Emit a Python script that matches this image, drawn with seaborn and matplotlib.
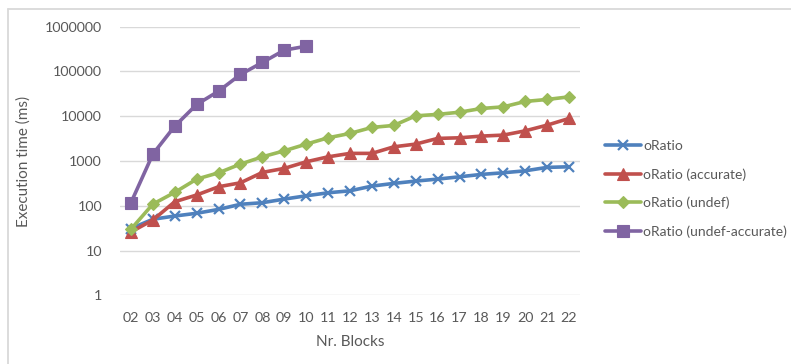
import numpy as np
import pandas as pd
import matplotlib
matplotlib.use("Agg")
import matplotlib.pyplot as plt
from matplotlib.lines import Line2D
import seaborn as sns

blocks = ["02", "03", "04", "05", "06", "07", "08", "09", "10", "11", "12",
          "13", "14", "15", "16", "17", "18", "19", "20", "21", "22"]

oratio = [31, 50, 59, 68, 83, 108, 117, 141, 167, 195, 216,
          275, 316, 356, 394, 444, 502, 546, 604, 720, 743]
oratio_accurate = [26, 48, 123, 174, 266, 326, 556, 684, 960, 1240, 1480,
                   1480, 2075, 2385, 3195, 3300, 3600, 3790, 4720, 6330, 8920]
oratio_undef = [30, 109, 199, 394, 545, 853, 1240, 1690, 2380, 3300, 4130,
                5620, 6230, 10200, 11000, 12300, 14900, 16200, 21400, 23700, 27100]
oratio_undef_accurate = [117, 1425, 6000, 18300, 36300, 85700, 159000, 299000, 367000]

series_names = ["oRatio", "oRatio (accurate)", "oRatio (undef)", "oRatio (undef-accurate)"]
series_values = [oratio, oratio_accurate, oratio_undef, oratio_undef_accurate]
colors = ["#4F81BD", "#C0504D", "#9BBB59", "#8064A2"]
markers = ["x", "^", "D", "s"]
marker_sizes = [7, 8, 6, 8]

rows = []
for name, vals in zip(series_names, series_values):
    for i, v in enumerate(vals):
        rows.append({"pos": i, "block": blocks[i], "series": name, "time": v})
df = pd.DataFrame(rows)

sns.set_theme(style="white")
plt.rcParams["font.family"] = ["Lato", "DejaVu Sans"]
text_color = "#595959"

fig = plt.figure(figsize=(7.91, 3.64), dpi=100)
ax = fig.add_axes([120 / 791, 1 - 295.3 / 364, 460 / 791, (295.3 - 26.7) / 364])

for name, c, m, ms in zip(series_names, colors, markers, marker_sizes):
    sub = df[df["series"] == name]
    sns.lineplot(data=sub, x="pos", y="time", ax=ax, color=c, linewidth=2.6,
                 marker=m, markersize=ms, markeredgecolor=c, markerfacecolor=c,
                 markeredgewidth=1.6 if m == "x" else 0.8,
                 label=name, zorder=3)

ax.set_yscale("log")
ax.set_ylim(1, 1e6)
ax.set_xlim(-0.5, len(blocks) - 0.5)
ax.set_yticks([1, 10, 100, 1000, 10000, 100000, 1000000])
ax.set_yticklabels(["1", "10", "100", "1000", "10000", "100000", "1000000"])
ax.yaxis.set_minor_locator(matplotlib.ticker.NullLocator())
ax.set_xticks(range(len(blocks)))
ax.set_xticklabels(blocks)
ax.tick_params(axis="both", length=0, labelsize=10.3, colors=text_color)
ax.tick_params(axis="x", pad=12)
ax.tick_params(axis="y", pad=13)
ax.grid(axis="y", color="#D9D9D9", linewidth=1)
ax.set_axisbelow(True)
for s in ax.spines.values():
    s.set_visible(False)

ax.set_xlabel("Nr. Blocks", fontsize=11, color=text_color, labelpad=8)
ax.set_ylabel("Execution time (ms)", fontsize=11, color=text_color, labelpad=10)

leg = ax.legend(loc="center left",
                bbox_to_anchor=((605 - 120) / 460, (295.3 - 189) / 268.6),
                borderaxespad=0, borderpad=0, frameon=False, fontsize=10,
                handlelength=2.6, labelspacing=1.15, handletextpad=0.15)
for t in leg.get_texts():
    t.set_color(text_color)

# chart area border (top and left edges)
border_kw = dict(transform=fig.transFigure, color="#D9D9D9", linewidth=1.3)
fig.add_artist(Line2D([7.5 / 791, 1.0], [1 - 8.5 / 364] * 2, **border_kw))
fig.add_artist(Line2D([7.5 / 791] * 2, [0.0, 1 - 8.5 / 364], **border_kw))

fig.savefig("out.png", dpi=100)
